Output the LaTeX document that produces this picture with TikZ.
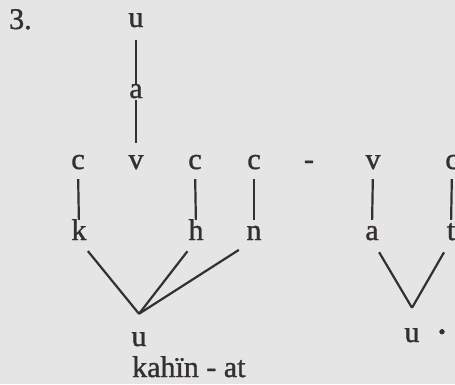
\documentclass[tikz,border=0pt]{standalone}
\usepackage{fontspec}
\setmainfont{Liberation Serif}
\newfontfamily\inkfont{Liberation Serif}[FakeBold=1.2]
\definecolor{bg}{RGB}{229,229,229}
\definecolor{ink}{RGB}{52,47,52}
\begin{document}
\begin{tikzpicture}[x=1pt,y=-1pt,
  lt/.style={font=\inkfont\fontsize{30}{36}\selectfont, inner sep=0pt, text height=13pt, text depth=0pt, text=ink, anchor=base},
  ln/.style={draw=ink, line width=2.2pt},
  vln/.style={ln, shorten <=10pt, shorten >=7pt},
  dln/.style={ln, shorten <=14pt}]
\useasboundingbox[fill=bg] (0,0) rectangle (455,384);
% labels
\node[lt, anchor=base west] (num) at (9,29) {3.};
\node[lt] (u1) at (136,27) {u};
\node[lt] (a1) at (136,98) {a};
\node[lt] (c1) at (78,169) {c};
\node[lt] (v1) at (136,169) {v};
\node[lt] (c2) at (195,169) {c};
\node[lt] (c3) at (254,169) {c};
\node[lt] (hy) at (309,169) {-};
\node[lt] (v2) at (373,169) {v};
\node[lt] (c4) at (452,169) {c};
\node[lt] (k) at (79,240) {k};
\node[lt] (h) at (196,240) {h};
\node[lt] (n) at (254,240) {n};
\node[lt] (a2) at (372,240) {a};
\node[lt] (t) at (451,240) {t};
\node[lt, text height=32pt] (u2) at (139,346) {u};
\node[lt, text height=34pt] (u3) at (412,342) {u};
\node[lt, font=\inkfont\fontsize{40}{44}\selectfont] (dot) at (442,345) {·};
\node[lt, text height=22pt, anchor=base west] (word) at (132,377) {kahïn - at};
% connectors
\draw[ln, shorten <=13pt, shorten >=1pt] (u1.south) -- (a1.north);
\draw[ln, shorten <=2pt, shorten >=13pt] (a1.south) -- (v1.north);
\draw[vln] (c1.south) -- (k.north);
\draw[vln] (c2.south) -- (h.north);
\draw[vln] (c3.south) -- (n.north);
\draw[vln] (v2.south) -- (a2.north);
\draw[vln] (c4.south) -- (t.north);
\draw[dln] (k.south) -- (u2.north);
\draw[dln] (h.south) -- (u2.north);
\draw[ln, shorten <=18pt] (n.south) -- (u2.north);
\draw[dln] (a2.south) -- (u3.north);
\draw[dln] (t.south) -- (u3.north);
\end{tikzpicture}
\end{document}
